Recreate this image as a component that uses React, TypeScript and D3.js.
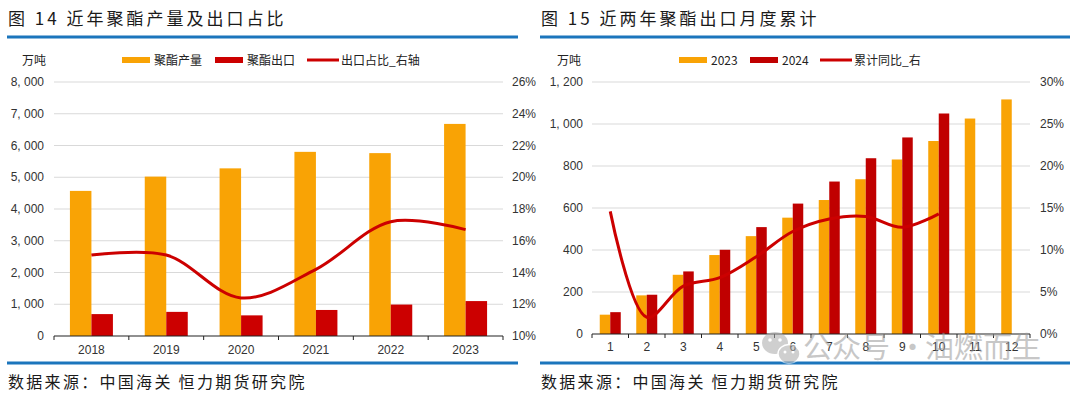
import React from 'react';
import * as d3 from 'd3';

// figure 14: yearly polyester output and export share
const years = ['2018', '2019', '2020', '2021', '2022', '2023'];
const polyesterOutput = [4570, 5020, 5280, 5800, 5760, 6680];
const polyesterExport = [690, 760, 650, 820, 990, 1100];
const exportShare = [15.1, 15.1, 12.4, 14.2, 17.2, 16.7];

// figure 15: monthly cumulative exports
const months = ['1', '2', '3', '4', '5', '6', '7', '8', '9', '10', '11', '12'];
const export2023 = [92, 184, 282, 376, 466, 554, 638, 737, 831, 919, 1026, 1117];
const export2024 = [104, 187, 298, 401, 509, 621, 726, 837, 936, 1050];
const cumYoY = [14.6, 2.0, 5.7, 6.7, 9.2, 12.2, 13.7, 14.0, 12.7, 14.3];

const ORANGE = '#f9a305';
const RED = '#cc0000';
const DARKRED = '#c00000';
const BLUE = '#1b75bc';
const GRID = '#d9d9d9';
const CJK = '"Noto Sans CJK SC", "Noto Sans", sans-serif';
const NUM = '"Liberation Sans", Arial, sans-serif';

const fmtThousands = (v: number) => d3.format(',')(v).replace(',', ', ');

const Frame = ({ x0, x1, title }: { x0: number; x1: number; title: string }) => (
  <g>
    <text x={x0 + 1} y={25} fontFamily={CJK} fontSize={17} letterSpacing={3} fill="#1a1a1a">{title}</text>
    <line x1={x0} x2={x1} y1={37} y2={37} stroke={BLUE} strokeWidth={3} />
    <line x1={x0} x2={x1} y1={363} y2={363} stroke={BLUE} strokeWidth={3} />
    <text x={x0 + 1} y={388} fontFamily={CJK} fontSize={16} letterSpacing={2.3} fill="#1a1a1a">数据来源：中国海关 恒力期货研究院</text>
  </g>
);

const LegendItem = ({ x, color, label, line }: { x: number; color: string; label: string; line?: boolean }) => (
  <g>
    {line
      ? <line x1={x} x2={x + 32} y1={60} y2={60} stroke={color} strokeWidth={3} />
      : <rect x={x} y={57} width={28} height={6} fill={color} />}
    <text x={x + (line ? 34 : 32)} y={64.5} fontFamily={CJK} fontSize={12} fill="#222">{label}</text>
  </g>
);

const LeftChart = () => {
  const x = d3.scaleBand().domain(years).range([54, 503]);
  const y = d3.scaleLinear().domain([0, 8000]).range([336, 82]);
  const yR = d3.scaleLinear().domain([10, 26]).range([336, 82]);
  const bw = 21.5;
  const line = d3.line<number>()
    .x((_, i) => (x(years[i]) as number) + x.bandwidth() / 2)
    .y(d => yR(d))
    .curve(d3.curveCatmullRom.alpha(0.5));

  return (
    <g>
      <Frame x0={7} x1={518} title="图 14  近年聚酯产量及出口占比" />
      <text x={22} y={64.5} fontFamily={CJK} fontSize={12} fill="#222">万吨</text>
      <LegendItem x={122} color={ORANGE} label="聚酯产量" />
      <LegendItem x={215} color={RED} label="聚酯出口" />
      <LegendItem x={307} color={RED} label="出口占比_右轴" line />

      {y.ticks(8).map(t => (
        <g key={t}>
          {t > 0 && <line x1={54} x2={503} y1={y(t)} y2={y(t)} stroke={GRID} strokeWidth={1} />}
          <text x={44} y={y(t) + 4} textAnchor="end" fontFamily={NUM} fontSize={12} fill="#333">{fmtThousands(t)}</text>
        </g>
      ))}
      {yR.ticks(8).map(t => (
        <text key={t} x={512} y={yR(t) + 4} fontFamily={NUM} fontSize={12} fill="#333">{t}%</text>
      ))}

      {years.map((yr, i) => {
        const cx = (x(yr) as number) + x.bandwidth() / 2;
        return (
          <g key={yr}>
            <rect x={cx - bw} y={y(polyesterOutput[i])} width={bw} height={336 - y(polyesterOutput[i])} fill={ORANGE} />
            <rect x={cx} y={y(polyesterExport[i])} width={bw} height={336 - y(polyesterExport[i])} fill={RED} />
            <text x={cx} y={354} textAnchor="middle" fontFamily={NUM} fontSize={12} fill="#333">{yr}</text>
          </g>
        );
      })}

      <line x1={54} x2={503} y1={336} y2={336} stroke="#222" strokeWidth={1.2} />
      {[...years.map(yr => x(yr) as number), 503].map((t, i) => (
        <line key={i} x1={t} x2={t} y1={336} y2={340} stroke="#222" strokeWidth={1} />
      ))}

      <path d={line(exportShare) || ''} fill="none" stroke={RED} strokeWidth={3} />
    </g>
  );
};

const RightChart = () => {
  const x = d3.scaleBand().domain(months).range([592, 1030]);
  const y = d3.scaleLinear().domain([0, 1200]).range([334, 82]);
  const yR = d3.scaleLinear().domain([0, 30]).range([334, 82]);
  const bw = 10.5;
  const line = d3.line<number>()
    .x((_, i) => (x(months[i]) as number) + x.bandwidth() / 2)
    .y(d => yR(d))
    .curve(d3.curveCatmullRom.alpha(0.5));

  return (
    <g>
      <Frame x0={540} x1={1070} title="图 15  近两年聚酯出口月度累计" />
      <text x={557} y={64.5} fontFamily={CJK} fontSize={12} fill="#222">万吨</text>
      <LegendItem x={679} color={ORANGE} label="2023" />
      <LegendItem x={750} color={DARKRED} label="2024" />
      <LegendItem x={820} color={RED} label="累计同比_右" line />

      {y.ticks(6).map(t => (
        <g key={t}>
          {t > 0 && <line x1={592} x2={1030} y1={y(t)} y2={y(t)} stroke={GRID} strokeWidth={1} />}
          <text x={583} y={y(t) + 4} textAnchor="end" fontFamily={NUM} fontSize={12} fill="#333">{fmtThousands(t)}</text>
        </g>
      ))}
      {yR.ticks(6).map(t => (
        <text key={t} x={1040} y={yR(t) + 4} fontFamily={NUM} fontSize={12} fill="#333">{t}%</text>
      ))}

      {months.map((m, i) => {
        const cx = (x(m) as number) + x.bandwidth() / 2;
        return (
          <g key={m}>
            <rect x={cx - bw} y={y(export2023[i])} width={bw} height={334 - y(export2023[i])} fill={ORANGE} />
            {i < export2024.length && (
              <rect x={cx} y={y(export2024[i])} width={bw} height={334 - y(export2024[i])} fill={DARKRED} />
            )}
            <text x={cx} y={351} textAnchor="middle" fontFamily={NUM} fontSize={12} fill="#333">{m}</text>
          </g>
        );
      })}

      <line x1={592} x2={1030} y1={334} y2={334} stroke="#222" strokeWidth={1.2} />
      {[...months.map(m => x(m) as number), 1030].map((t, i) => (
        <line key={i} x1={t} x2={t} y1={334} y2={338} stroke="#222" strokeWidth={1} />
      ))}

      <path d={line(cumYoY) || ''} fill="none" stroke={RED} strokeWidth={3} />

      {/* watermark */}
      <g opacity={0.55}>
        <ellipse cx={775} cy={343} rx={13} ry={11} fill="#a8a8a8" />
        <ellipse cx={789} cy={354} rx={11} ry={9.5} fill="#a8a8a8" stroke="#fff" strokeWidth={1.5} />
        <circle cx={770} cy={340} r={1.8} fill="#fff" />
        <circle cx={780} cy={340} r={1.8} fill="#fff" />
        <circle cx={785} cy={352} r={1.5} fill="#fff" />
        <circle cx={793} cy={352} r={1.5} fill="#fff" />
        <text x={803} y={358} fontFamily={CJK} fontSize={29} fill="#9a9a9a">公众号</text>
        <text x={898} y={358} fontFamily={CJK} fontSize={29} fill="#9a9a9a">·</text>
        <text x={925} y={358} fontFamily={CJK} fontSize={29} fill="#9a9a9a">油燃而生</text>
      </g>
    </g>
  );
};

export default function App() {
  return (
    <svg
      width={1080}
      height={397}
      viewBox="0 0 1080 397"
      style={{ position: 'absolute', left: 0, top: 0, background: '#fff' }}
    >
      <rect width={1080} height={397} fill="#fff" />
      <LeftChart />
      <RightChart />
    </svg>
  );
}
